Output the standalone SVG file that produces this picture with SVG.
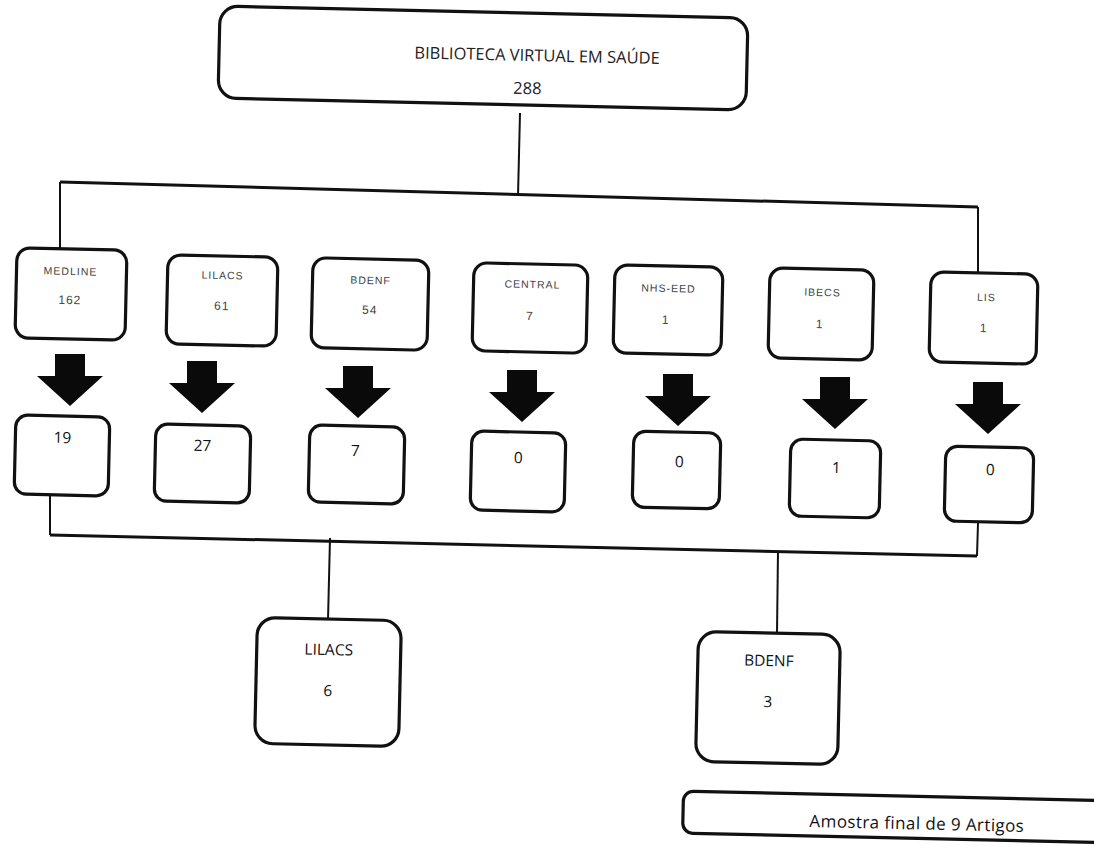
<svg xmlns="http://www.w3.org/2000/svg" width="1094" height="846" viewBox="0 0 1094 846">
<defs>
<style>
.box{fill:#fff;stroke:#111;stroke-width:3.2}
.ln{fill:none;stroke:#111;stroke-width:2}
.hl{fill:none;stroke:#111;stroke-width:3}
.lbl{font-family:"Liberation Sans",Arial,sans-serif;font-size:10.5px;fill:#444;text-anchor:middle;letter-spacing:1px}
.num{font-family:"Liberation Sans",Arial,sans-serif;font-size:12px;fill:#444;text-anchor:middle;letter-spacing:1px}
.big{font-family:"Open Sans","Liberation Sans",Arial,sans-serif;font-size:16.5px;fill:#222;text-anchor:middle}
.res{font-family:"Open Sans","Liberation Sans",Arial,sans-serif;font-size:15.5px;fill:#111;text-anchor:middle}
</style>
<path id="arrow" d="M-15,0 H15 V22 H33 L0,52 L-33,22 H-15 Z" fill="#0a0a0a"/>
</defs>
<rect width="1094" height="846" fill="#fff"/>

<g id="connectors">
<path class="ln" d="M520,113 L518,196"/>
<path class="hl" d="M60,182 L978,207"/>
<path class="ln" d="M60,182 L60,249"/>
<path class="ln" d="M978,207 L978,273"/>
<path class="ln" d="M50,496 L50,535"/>
<path class="ln" d="M978,523 L977,556"/>
<path class="hl" d="M50,535 L977,556"/>
<path class="ln" d="M330,538 L328,620"/>
<path class="ln" d="M778,551 L777,633"/>
<use href="#arrow" x="70" y="354"/>
<use href="#arrow" x="202" y="361"/>
<use href="#arrow" x="358" y="366"/>
<use href="#arrow" x="522" y="370"/>
<use href="#arrow" x="678" y="374"/>
<use href="#arrow" x="835" y="377"/>
<use href="#arrow" x="988" y="382"/>
</g>

<g id="bvs" transform="rotate(1.3 483 58)">
<rect class="box" x="219" y="12" width="528" height="92" rx="18"/>
<text class="big" x="537" y="60">BIBLIOTECA VIRTUAL EM SAÚDE</text>
<text class="big" x="528" y="93">288</text>
</g>

<g id="medline" transform="rotate(1.3 71 294)">
<rect class="box" x="16" y="249" width="110" height="90" rx="13"/>
<text class="lbl" x="70" y="275">MEDLINE</text>
<text class="num" x="70" y="304">162</text>
</g>
<g id="lilacs" transform="rotate(1.3 222 300)">
<rect class="box" x="167" y="256" width="110" height="89" rx="13"/>
<text class="lbl" x="222" y="279">LILACS</text>
<text class="num" x="222" y="310">61</text>
</g>
<g id="bdenf" transform="rotate(1.3 370 304)">
<rect class="box" x="312" y="259" width="116" height="90" rx="13"/>
<text class="lbl" x="370" y="284">BDENF</text>
<text class="num" x="370" y="314">54</text>
</g>
<g id="central" transform="rotate(1.3 530 308)">
<rect class="box" x="473" y="264" width="114" height="88" rx="13"/>
<text class="lbl" x="532" y="288">CENTRAL</text>
<text class="num" x="530" y="320">7</text>
</g>
<g id="nhseed" transform="rotate(1.3 668 310)">
<rect class="box" x="614" y="266" width="108" height="88" rx="13"/>
<text class="lbl" x="668" y="292">NHS-EED</text>
<text class="num" x="666" y="324">1</text>
</g>
<g id="ibecs" transform="rotate(1.3 821 314)">
<rect class="box" x="769" y="269" width="104" height="90" rx="13"/>
<text class="lbl" x="822" y="296">IBECS</text>
<text class="num" x="820" y="328">1</text>
</g>
<g id="lis" transform="rotate(1.3 984 318)">
<rect class="box" x="930" y="273" width="107" height="90" rx="13"/>
<text class="lbl" x="986" y="301">LIS</text>
<text class="num" x="984" y="332">1</text>
</g>

<g id="r-medline" transform="rotate(1.3 62 455)">
<rect class="box" x="15" y="416" width="94" height="79" rx="12"/>
<text class="res" x="62" y="443">19</text>
</g>
<g id="r-lilacs" transform="rotate(1.3 202 463)">
<rect class="box" x="155" y="425" width="95" height="77" rx="12"/>
<text class="res" x="202" y="451">27</text>
</g>
<g id="r-bdenf" transform="rotate(1.3 356 465)">
<rect class="box" x="309" y="426" width="95" height="77" rx="12"/>
<text class="res" x="355" y="456">7</text>
</g>
<g id="r-central" transform="rotate(1.3 518 471)">
<rect class="box" x="471" y="432" width="94" height="79" rx="12"/>
<text class="res" x="518" y="463">0</text>
</g>
<g id="r-nhseed" transform="rotate(1.3 676 470)">
<rect class="box" x="633" y="432" width="87" height="76" rx="12"/>
<text class="res" x="679" y="467">0</text>
</g>
<g id="r-ibecs" transform="rotate(1.3 835 478)">
<rect class="box" x="790" y="440" width="90" height="77" rx="12"/>
<text class="res" x="836" y="473">1</text>
</g>
<g id="r-lis" transform="rotate(1.3 989 484)">
<rect class="box" x="945" y="447" width="88" height="75" rx="12"/>
<text class="res" x="990" y="475">0</text>
</g>

<g id="f-lilacs" transform="rotate(1.3 328 682)">
<rect class="box" x="256" y="619" width="144" height="126" rx="18"/>
<text class="res" x="328" y="655">LILACS</text>
<text class="res" x="328" y="696">6</text>
</g>
<g id="f-bdenf" transform="rotate(1.3 768 698)">
<rect class="box" x="697" y="633" width="142" height="130" rx="18"/>
<text class="res" x="768" y="666">BDENF</text>
<text class="res" x="768" y="707">3</text>
</g>

<g id="final" transform="rotate(1.3 900 817)">
<rect class="box" x="683" y="796" width="440" height="42" rx="10"/>
<text class="res" x="917" y="829" style="font-size:17px;letter-spacing:0.4px">Amostra final de 9 Artigos</text>
</g>
</svg>
